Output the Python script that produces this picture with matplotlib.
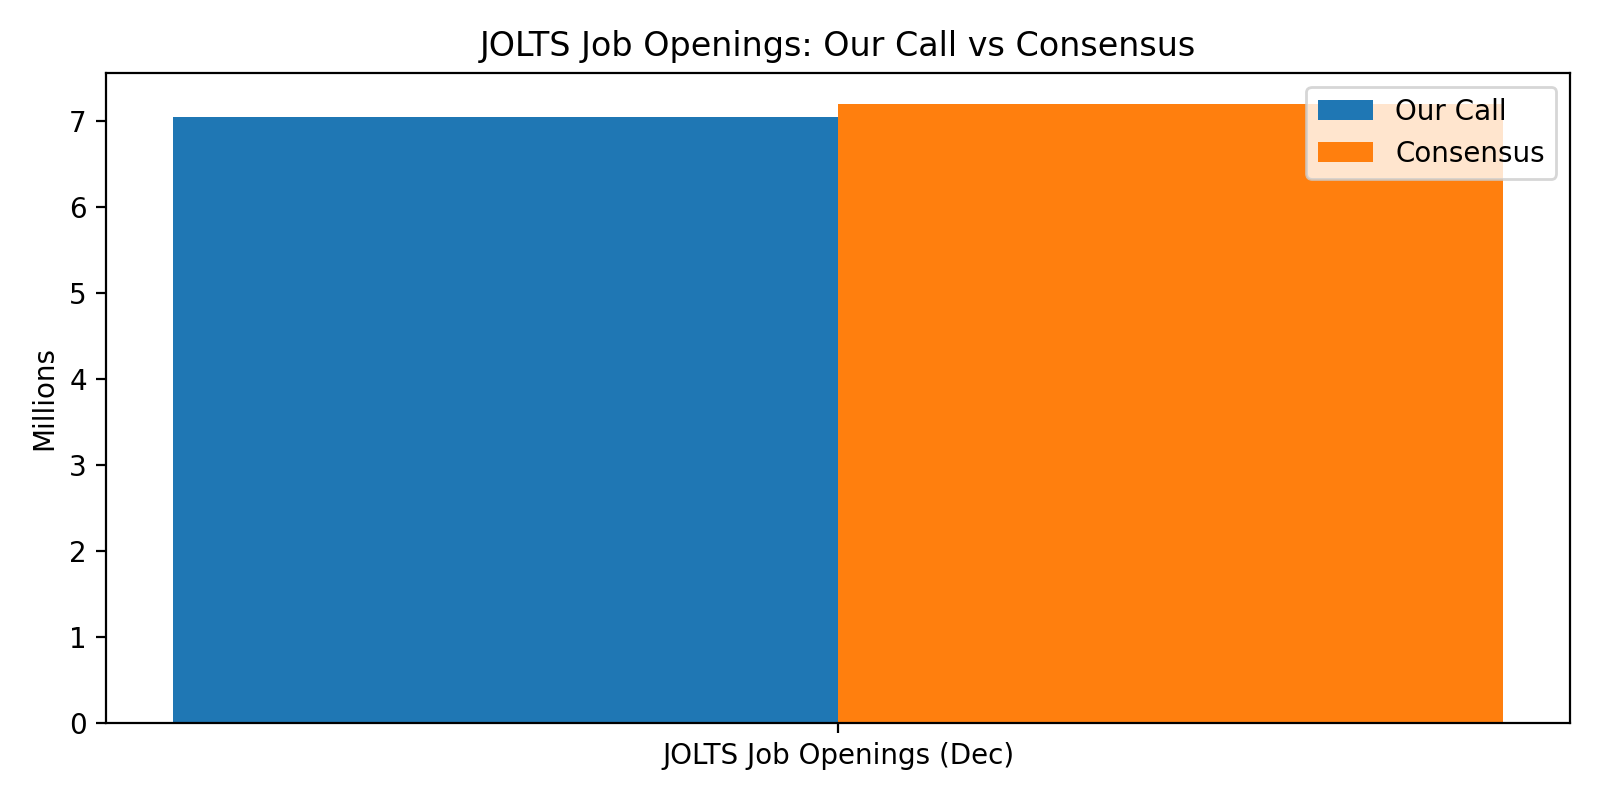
import matplotlib
matplotlib.use("Agg")
import matplotlib.pyplot as plt
import numpy as np

categories = ["JOLTS Job Openings (Dec)"]
series_names = ["Our Call", "Consensus"]
our_call = [7.05]
consensus = [7.20]

x = np.arange(len(categories))
width = 0.35

fig, ax = plt.subplots(figsize=(8, 4), dpi=200)
ax.bar(x - width / 2, our_call, width, label=series_names[0])
ax.bar(x + width / 2, consensus, width, label=series_names[1])
ax.set_xticks(x)
ax.set_xticklabels(categories)
ax.set_ylabel("Millions")
ax.set_title("JOLTS Job Openings: Our Call vs Consensus")
ax.legend()
fig.tight_layout()
fig.savefig("out.png")
